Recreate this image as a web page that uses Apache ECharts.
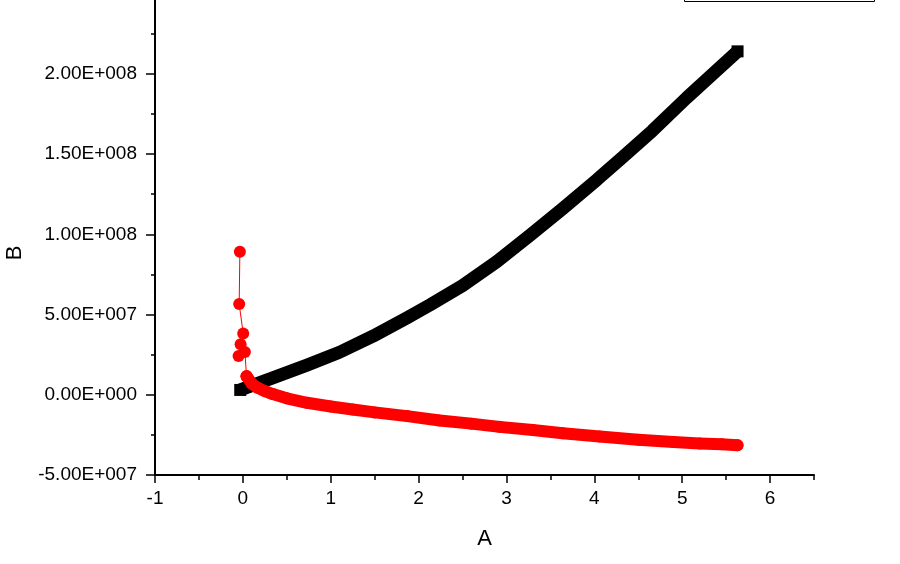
<!DOCTYPE html>
<html><head><meta charset="utf-8">
<script src="https://cdn.jsdelivr.net/npm/echarts@6/dist/echarts.min.js"></script>
<style>html,body{margin:0;padding:0;background:#fff}#c{width:900px;height:564px}</style>
</head><body><div id="c"></div>
<script>
// ---- data ----
const xMajorTicks = [-1, 0, 1, 2, 3, 4, 5, 6];
const xMinorTicks = [-0.5, 0.5, 1.5, 2.5, 3.5, 4.5, 5.5, 6.5];
const yMajorTicks = [-5e7, 0, 5e7, 1e8, 1.5e8, 2e8];
const yMinorTicks = [-2.5e7, 2.5e7, 7.5e7, 1.25e8, 1.75e8, 2.25e8];

const blackA = [-0.03, 0.34, 0.73, 1.1, 1.48, 1.87, 2.13, 2.5, 2.89, 3.27, 3.64, 4.03, 4.32, 4.66, 5.05, 5.43, 5.63];
const blackB = [3.0e6, 1.05e7, 1.85e7, 2.65e7, 3.65e7, 4.8e7, 5.6e7, 6.8e7, 8.3e7, 9.95e7, 1.16e8, 1.34e8, 1.48e8, 1.645e8, 1.85e8, 2.04e8, 2.14e8];

const redSpikeA = [-0.034, -0.042, 0.004, -0.026, -0.049, 0.023, 0.042];
const redSpikeB = [8.91e7, 5.65e7, 3.82e7, 3.15e7, 2.41e7, 2.67e7, 1.16e7];

const redA = [0.042, 0.1, 0.156, 0.25, 0.34, 0.5, 0.73, 1.0, 1.25, 1.5, 1.87, 2.24, 2.6, 2.92, 3.3, 3.64, 4.06, 4.5, 4.9, 5.2, 5.45, 5.63];
const redB = [1.16e7, 7.0e6, 4.7e6, 2.3e6, 4e5, -2.2e6, -5.0e6, -7.3e6, -9.2e6, -1.1e7, -1.33e7, -1.6e7, -1.8e7, -2.0e7, -2.2e7, -2.4e7, -2.6e7, -2.8e7, -2.94e7, -3.03e7, -3.09e7, -3.14e7];

function zip(a, b) { return a.map((v, i) => [v, b[i]]); }
function fmtE(v) {
  if (v === 0) return '0.00E+000';
  let e = Math.floor(Math.log10(Math.abs(v)) + 1e-12);
  let ms = (v / Math.pow(10, e)).toFixed(2);
  if (Math.abs(parseFloat(ms)) >= 10) { e += 1; ms = (v / Math.pow(10, e)).toFixed(2); }
  return ms + 'E' + (e >= 0 ? '+' : '-') + String(Math.abs(e)).padStart(3, '0');
}

const FONT = 'Liberation Sans';
const X_MIN = -1, X_MAX = 6.5, Y_MIN = -5e7, Y_MAX = 2.46e8;
const chart = echarts.init(document.getElementById('c'), null, {renderer: 'canvas'});
const tickStyle = {color: '#000', width: 1.5};
chart.setOption({
  animation: false,
  backgroundColor: '#fff',
  grid: {left: 155, right: 86, top: 0, bottom: 89, containLabel: false, outerBoundsMode: 'none'},
  xAxis: [{
    type: 'value', min: X_MIN, max: X_MAX, position: 'bottom',
    name: 'A', nameLocation: 'middle', nameGap: 53,
    nameTextStyle: {fontFamily: FONT, fontSize: 22, color: '#000'},
    axisLine: {show: true, onZero: false, lineStyle: {color: '#000', width: 2}},
    axisTick: {show: true, length: 8, customValues: xMajorTicks, lineStyle: tickStyle},
    axisLabel: {show: true, customValues: xMajorTicks, margin: 14, fontFamily: FONT, fontSize: 19, color: '#000'},
    splitLine: {show: false}
  }, {
    type: 'value', min: X_MIN, max: X_MAX, position: 'bottom', offset: 0,
    axisLine: {show: false, onZero: false},
    axisTick: {show: true, length: 5, customValues: xMinorTicks, lineStyle: tickStyle},
    axisLabel: {show: false},
    splitLine: {show: false}
  }],
  yAxis: [{
    type: 'value', min: Y_MIN, max: Y_MAX, position: 'left',
    name: 'B', nameLocation: 'middle', nameGap: 129,
    nameTextStyle: {fontFamily: FONT, fontSize: 22, color: '#000', padding: [0, 31, 0, 0]},
    axisLine: {show: true, onZero: false, lineStyle: {color: '#000', width: 2}},
    axisTick: {show: true, length: 9, customValues: yMajorTicks, lineStyle: tickStyle},
    axisLabel: {show: true, customValues: yMajorTicks, margin: 18, fontFamily: FONT, fontSize: 19, color: '#000', formatter: fmtE},
    splitLine: {show: false}
  }, {
    type: 'value', min: Y_MIN, max: Y_MAX, position: 'left', offset: 0,
    axisLine: {show: false, onZero: false},
    axisTick: {show: true, length: 4, customValues: yMinorTicks, lineStyle: tickStyle},
    axisLabel: {show: false},
    splitLine: {show: false}
  }],
  series: [{
    type: 'line', name: 'black', xAxisIndex: 0, yAxisIndex: 0, data: zip(blackA, blackB),
    smooth: false,
    lineStyle: {color: '#000', width: 13, cap: 'butt', join: 'round'},
    itemStyle: {color: '#000'},
    symbol: 'rect', showSymbol: true,
    symbolSize: (v, p) => (p.dataIndex === 0 || p.dataIndex === blackA.length - 1) ? 12 : 0,
    z: 2
  }, {
    type: 'line', name: 'red band', xAxisIndex: 0, yAxisIndex: 0, data: zip(redA, redB),
    smooth: false,
    lineStyle: {color: '#ff0000', width: 12, cap: 'round', join: 'round'},
    itemStyle: {color: '#ff0000'},
    symbol: 'circle', symbolSize: 12, showSymbol: true,
    z: 3
  }, {
    type: 'line', name: 'red spike', xAxisIndex: 0, yAxisIndex: 0, data: zip(redSpikeA, redSpikeB),
    lineStyle: {color: '#ff0000', width: 1},
    itemStyle: {color: '#ff0000'},
    symbol: 'circle', symbolSize: 12, showSymbol: true,
    z: 4
  }],
  graphic: [{
    type: 'rect', silent: true,
    shape: {x: 684.5, y: -20, width: 190, height: 21.5},
    style: {fill: 'none', stroke: '#000', lineWidth: 1}
  }]
});
</script>
</body></html>
